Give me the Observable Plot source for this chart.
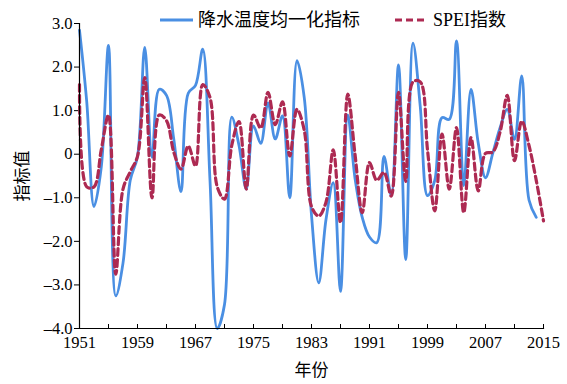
<!DOCTYPE html>
<html><head><meta charset="utf-8">
<script src="https://cdn.jsdelivr.net/npm/d3@7"></script>
<script src="https://cdn.jsdelivr.net/npm/@observablehq/plot@0.6"></script>
<style>
body{margin:0;background:#fff;}
#wrap{position:relative;width:567px;height:384px;overflow:hidden;}
#legend{position:absolute;left:0;top:0;}
g[aria-label="x-axis label"] text, g[aria-label="y-axis label"] text{font-family:"Noto Sans CJK SC",sans-serif;font-size:17px;}
</style></head><body><div id="wrap"></div>
<script>
const years = [1951,1952,1953,1954,1955,1956,1957,1958,1959,1960,1961,1962,1963,1964,1965,1966,1967,1968,1969,1970,
1971,1972,1973,1974,1975,1976,1977,1978,1979,1980,1981,1982,1983,1984,1985,1986,1987,1988,1989,1990,
1991,1992,1993,1994,1995,1996,1997,1998,1999,2000,2001,2002,2003,2004,2005,2006,2007,2008,2009,2010,
2011,2012,2013,2014,2015];
// 降水温度均一化指标 (1951-2014)
const indexValues = [2.85,1.2,-1.2,-0.3,2.5,-3.25,-2.5,-0.6,-0.05,2.45,-0.07,1.49,1.35,0.35,-0.86,1.4,1.58,2.41,-0.6,-4.0,
-3.45,0.85,0.2,-0.8,0.65,0.25,1.18,0.35,0.88,-1.0,2.15,1.3,-1.4,-2.95,-1.5,-0.65,-3.15,0.9,-0.55,-1.45,
-1.9,-2.03,-0.05,-0.95,2.05,-2.42,2.55,1.1,-0.95,-0.6,0.84,0.8,2.6,-0.72,1.49,0.25,-0.54,0.02,0.6,1.03,
0.34,1.8,-1.05,-1.45];
// SPEI指数 (1951-2015)
const speiValues = [1.6,-0.75,-0.75,0.1,0.9,-2.75,-0.8,-0.4,-0.05,1.76,-1.0,0.9,0.77,0.05,-0.34,0.19,-0.27,1.6,1.3,-0.75,
-1.03,0.2,0.75,-0.8,0.9,0.6,1.42,0.68,1.2,-0.04,1.03,0.55,-1.2,-1.42,-1.1,0.1,-1.57,1.38,0.0,-1.34,
-0.19,-0.6,-0.42,-0.96,1.42,-0.62,1.66,1.66,0.1,-1.3,0.46,-0.8,0.61,-1.34,0.38,-0.84,0.02,0.05,0.5,1.35,
-0.15,0.76,0.2,-0.6,-1.53];
const xTicks = [1951,1955,1959,1963,1967,1971,1975,1979,1983,1987,1991,1995,1999,2003,2007,2011,2015];
const xLabels = [1951,1959,1967,1975,1983,1991,1999,2007,2015];
const yTicks = [-4,-3,-2,-1,0,1,2,3];
const seriesNames = ["降水温度均一化指标","SPEI指数"];
const colors = ["#4a8fe3","#ad2a52"];

const indexRows = indexValues.map((v,i)=>({year:years[i], value:v}));
const speiRows = speiValues.map((v,i)=>({year:years[i], value:v}));

const chart = Plot.plot({
  width:567, height:384,
  marginLeft:79, marginRight:24, marginTop:23, marginBottom:56,
  style:{fontFamily:'"Liberation Serif", serif', fontSize:"16.5px", color:"#000", background:"transparent"},
  x:{domain:[1951,2015]},
  y:{domain:[-4,3]},
  marks:[
    Plot.axisX({ticks:xTicks, tickSize:-4, tickFormat:()=>"", label:null}),
    Plot.axisX({ticks:xLabels, tickSize:0, tickPadding:8, tickFormat:d=>String(d), label:"年份", labelAnchor:"center", labelOffset:47, labelArrow:"none"}),
    Plot.axisY({ticks:yTicks, tickSize:5, tickPadding:2, tickFormat:d=> d===0 ? "0" : (d<0 ? "–" : "") + Math.abs(d).toFixed(1), label:"指标值", labelAnchor:"center", labelOffset:64, labelArrow:"none"}),
    Plot.line(indexRows, {x:"year", y:"value", stroke:colors[0], strokeWidth:2.8, curve:"catmull-rom"}),
    Plot.line(speiRows, {x:"year", y:"value", stroke:colors[1], strokeWidth:3.2, strokeDasharray:"7,4", curve:"catmull-rom"}),
    Plot.frame({anchor:"left", stroke:"#000", strokeWidth:1.2}),
    Plot.frame({anchor:"bottom", stroke:"#000", strokeWidth:1.2})
  ]
});
const wrap = document.getElementById("wrap");
wrap.appendChild(chart);

// legend
const ns = "http://www.w3.org/2000/svg";
const lg = document.createElementNS(ns, "svg");
lg.setAttribute("id","legend"); lg.setAttribute("width","567"); lg.setAttribute("height","40");
const items = [{x1:160,x2:193,tx:198,dash:null,w:2.8},{x1:395,x2:428,tx:433,dash:"7,4",w:3.2}];
items.forEach((it,i)=>{
  const l = document.createElementNS(ns,"line");
  l.setAttribute("x1",it.x1); l.setAttribute("x2",it.x2); l.setAttribute("y1",20); l.setAttribute("y2",20);
  l.setAttribute("stroke",colors[i]); l.setAttribute("stroke-width",it.w);
  if(it.dash) l.setAttribute("stroke-dasharray",it.dash);
  lg.appendChild(l);
  const t = document.createElementNS(ns,"text");
  t.setAttribute("x",it.tx); t.setAttribute("y",20); t.setAttribute("dominant-baseline","central");
  t.setAttribute("font-size","18"); t.setAttribute("font-family",'"Liberation Serif","Noto Sans CJK SC",serif');
  t.textContent = seriesNames[i];
  lg.appendChild(t);
});
wrap.appendChild(lg);
</script></body></html>
